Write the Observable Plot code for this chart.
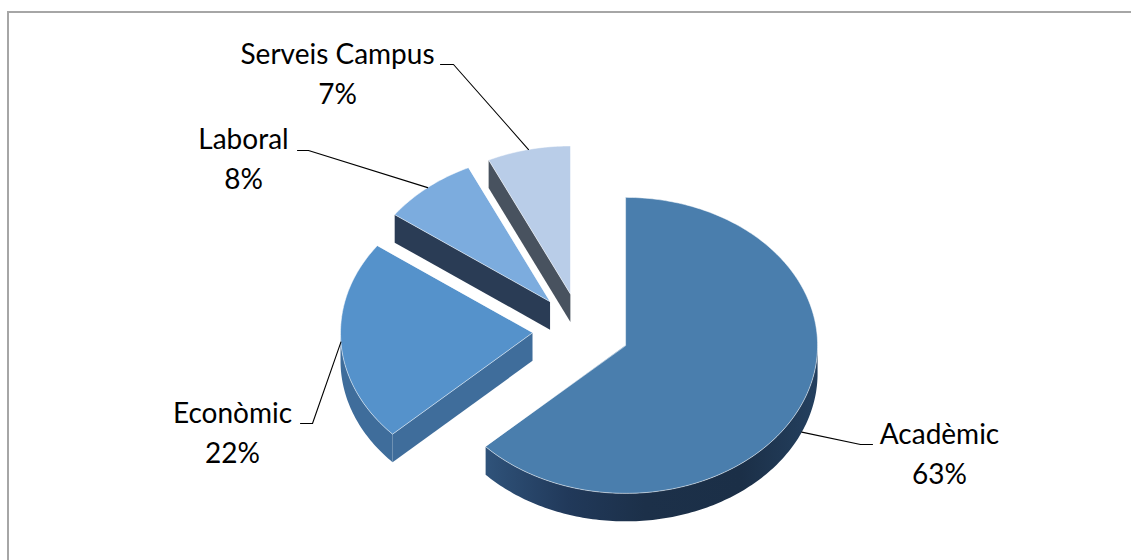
<!DOCTYPE html>
<html>
<head>
<meta charset="utf-8">
<script src="https://cdn.jsdelivr.net/npm/d3@7"></script>
<script src="https://cdn.jsdelivr.net/npm/@observablehq/plot@0.6"></script>
<style>
  html, body { margin: 0; padding: 0; background: #fff; }
  #wrap { position: relative; width: 1131px; height: 560px; overflow: hidden; }
  #frame { position: absolute; left: 7px; top: 11px; width: 1140px; height: 570px; border: 2px solid #a6a6a6; box-sizing: border-box; pointer-events: none; }
  #chart svg { display: block; }
</style>
</head>
<body>
<div id="wrap"><div id="chart"></div><div id="frame"></div></div>
<script>
// ---- data ----
const categories = ["Acadèmic", "Econòmic", "Laboral", "Serveis Campus"];
const values = [63, 22, 8, 7];
const percentLabels = ["63%", "22%", "8%", "7%"];

// ---- styles ----
const topColors = ["#4a7ead", "#5592cb", "#7cacde", "#b9cde8"];
const wallColors = ["url(#acadSide)", "#3f6d9b", "#2a3c55", "#48525f"];

// ---- layout ----
const CX = 580.5, CY = 330, RX = 192, RY = 148, DEPTH = 28, EXPLODE = 0.253;
const labelLayout = {
  "Acadèmic":       {tx: 939, ty: 443, e1: 872, e2: 860, ey: 444},
  "Econòmic":       {tx: 232, ty: 422, e1: 300, e2: 312, ey: 423},
  "Laboral":        {tx: 243, ty: 148, e1: 297, e2: 308, ey: 150},
  "Serveis Campus": {tx: 337, ty: 63,  e1: 440, e2: 453, ey: 64}
};

const total = d3.sum(values);
const TAU = Math.PI * 2;
let acc = 0;
const slices = categories.map((c, i) => {
  const a1 = acc / total * TAU;
  acc += values[i];
  const a2 = acc / total * TAU;
  const mid = (a1 + a2) / 2;
  return {
    name: c, value: values[i], pct: percentLabels[i], i, a1, a2, mid,
    cx: CX + RX * EXPLODE * Math.sin(mid),
    cy: CY - RY * EXPLODE * Math.cos(mid)
  };
});

function P(s, a, r, dz) {
  return {x: s.cx + RX * r * Math.sin(a), y: s.cy - RY * r * Math.cos(a) + dz};
}
function arc(s, from, to, dz) {
  const n = Math.max(2, Math.ceil(Math.abs(to - from) / (Math.PI / 180)));
  return d3.range(n + 1).map(k => P(s, from + (to - from) * k / n, 1, dz));
}

// painter's order: back slices first
const drawOrder = [3, 2, 1, 0];
const polys = [];
for (const idx of drawOrder) {
  const s = slices[idx];
  // start radial wall
  if (Math.sin(s.a1) < -1e-6) {
    polys.push({pts: [P(s, s.a1, 0, 0), P(s, s.a1, 1, 0), P(s, s.a1, 1, DEPTH), P(s, s.a1, 0, DEPTH)], fill: wallColors[idx]});
  }
  // end radial wall
  if (Math.sin(s.a2) > 1e-6) {
    polys.push({pts: [P(s, s.a2, 0, 0), P(s, s.a2, 1, 0), P(s, s.a2, 1, DEPTH), P(s, s.a2, 0, DEPTH)], fill: wallColors[idx]});
  }
  // outer wall (front half only)
  const b1 = Math.max(s.a1, Math.PI / 2), b2 = Math.min(s.a2, 3 * Math.PI / 2);
  if (b2 > b1) {
    polys.push({pts: arc(s, b1, b2, 0).concat(arc(s, b2, b1, DEPTH)), fill: wallColors[idx]});
  }
  // top face
  polys.push({pts: [P(s, 0, 0, 0)].concat(arc(s, s.a1, s.a2, 0)), fill: topColors[idx], top: true});
}

// leaders
const leaders = slices.map(s => {
  const L = labelLayout[s.name];
  const dz = Math.cos(s.mid) < -0.2 ? DEPTH : 0;
  const p = P(s, s.mid, 1, dz);
  return [{x: L.e1, y: L.ey}, {x: L.e2, y: L.ey}, p];
});
const labels = slices.map(s => ({...labelLayout[s.name], name: s.name, pct: s.pct}));

const defsMark = (index, scales) => {
  const ns = "http://www.w3.org/2000/svg";
  const defs = document.createElementNS(ns, "defs");
  const g = document.createElementNS(ns, "linearGradient");
  g.setAttribute("id", "acadSide");
  g.setAttribute("gradientUnits", "userSpaceOnUse");
  const s = slices[0];
  g.setAttribute("x1", scales.x(s.cx - RX));
  g.setAttribute("x2", scales.x(s.cx + RX));
  g.setAttribute("y1", 0); g.setAttribute("y2", 0);
  [["0%", "#3a6690"], ["18%", "#2c4d73"], ["35%", "#21395a"], ["55%", "#1c3049"], ["80%", "#1b2f47"], ["100%", "#24405f"]].forEach(([o, c]) => {
    const st = document.createElementNS(ns, "stop");
    st.setAttribute("offset", o); st.setAttribute("stop-color", c);
    g.appendChild(st);
  });
  defs.appendChild(g);
  return defs;
};

const marks = [defsMark];
polys.forEach(p => {
  marks.push(Plot.line(p.pts, {x: "x", y: "y", curve: "linear-closed", fill: p.fill,
    stroke: p.top ? "#ffffff" : "none", strokeOpacity: 0.5, strokeWidth: 1}));
});
leaders.forEach(l => {
  marks.push(Plot.line(l, {x: "x", y: "y", stroke: "#000", strokeWidth: 1.1}));
});
marks.push(Plot.text(labels, {x: "tx", y: "ty", text: "name", lineAnchor: "bottom", fontSize: 28, fill: "#000"}));
marks.push(Plot.text(labels, {x: "tx", y: d => d.ty + 40, text: "pct", lineAnchor: "bottom", fontSize: 28, fill: "#000"}));

const chart = Plot.plot({
  width: 1131, height: 560, margin: 0,
  x: {domain: [0, 1131], range: [0, 1131], axis: null},
  y: {domain: [0, 560], range: [0, 560], axis: null},
  style: {fontFamily: "Lato", background: "#fff"},
  marks
});
document.getElementById("chart").appendChild(chart);
</script>
</body>
</html>
